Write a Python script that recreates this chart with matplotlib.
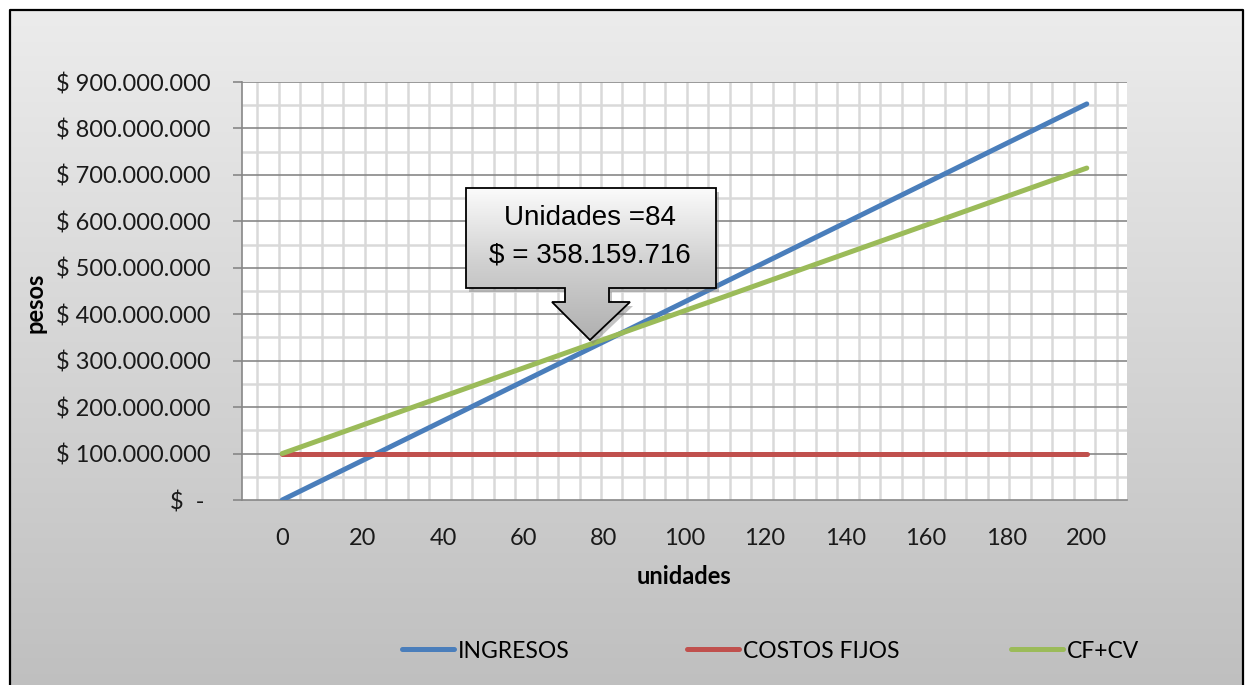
import numpy as np
import matplotlib
matplotlib.use('Agg')
import matplotlib.pyplot as plt
from matplotlib.patches import Polygon
from matplotlib.lines import Line2D
from matplotlib.colors import LinearSegmentedColormap
from matplotlib.ticker import FuncFormatter

# ---------------- data ----------------
unidades = [0, 200]
ingresos = [0, 852_800_000]
costos_fijos = [100_000_000, 100_000_000]
cf_cv = [100_000_000, 714_700_000]
series_names = ['INGRESOS', 'COSTOS FIJOS', 'CF+CV']
series_colors = ['#4a7ebb', '#c0504d', '#9bbb59']
x_ticks = list(range(0, 201, 20))
y_ticks = list(range(0, 900_000_001, 100_000_000))
callout_lines = ['Unidades =84', '$ = 358.159.716']

MAIN_FONT = ['Lato', 'DejaVu Sans']
NARROW_FONT = ['Liberation Sans', 'DejaVu Sans']

W, H = 1250, 685
fig = plt.figure(figsize=(W / 100, H / 100), dpi=100)
fig.patch.set_facecolor('white')

# ---------------- background (chart area gradient + border) ----------------
bg = fig.add_axes([0, 0, 1, 1], zorder=-5)
grad = np.linspace(0, 1, 256).reshape(-1, 1)
cmap_bg = LinearSegmentedColormap.from_list('bg', ['#ececec', '#bfbfbf'])
bg.imshow(grad, cmap=cmap_bg, extent=[10, 1243, 690, 10], aspect='auto', origin='upper')
bg.plot([10, 10, 1243, 1243], [690, 10, 10, 690], color='black', lw=1.6)
bg.set_xlim(0, W)
bg.set_ylim(H, 0)
bg.axis('off')

# ---------------- main axes ----------------
ax = fig.add_axes([242 / W, 1 - 500 / H, (1127 - 242) / W, (500 - 82) / H])
ax.set_facecolor('white')
ax.set_xlim(-10, 210)
ax.set_ylim(0, 900_000_000)

# minor grid (light)
minor_y = np.arange(50_000_000, 900_000_000, 100_000_000)
ax.hlines(minor_y, -10, 210, color='#d9d9d9', lw=1.8, zorder=0.5)
minor_x = np.linspace(-6.2, 207.4, 41)
ax.vlines(minor_x, 0, 900_000_000, color='#d9d9d9', lw=1.8, zorder=0.5)
# major horizontal grid
ax.hlines(y_ticks[1:], -10, 210, color='#878787', lw=1.2, zorder=1)

for s in ['top', 'right']:
    ax.spines[s].set_visible(False)
for s in ['left', 'bottom']:
    ax.spines[s].set_color('#878787')
    ax.spines[s].set_linewidth(1.2)

# series
for vals, name, col, z in zip([ingresos, costos_fijos, cf_cv], series_names, series_colors, [3, 4, 5]):
    ax.plot(unidades, vals, color=col, lw=3.6, solid_capstyle='round', label=name, zorder=z)

# ticks
ax.set_xticks(x_ticks)
ax.set_yticks(y_ticks)

def money(v, pos):
    if v == 0:
        return '$  - '
    return '$ ' + f'{int(v):,}'.replace(',', '.')

ax.yaxis.set_major_formatter(FuncFormatter(money))
ax.tick_params(axis='y', length=6.5, width=1.2, color='#878787', pad=16, labelsize=17)
ax.tick_params(axis='x', length=0, pad=20, labelsize=17)
for lab in ax.get_xticklabels() + ax.get_yticklabels():
    lab.set_family(MAIN_FONT)
    lab.set_color('#1a1a1a')

ax.set_xlabel('unidades', fontsize=17, fontweight='bold', family=MAIN_FONT)
ax.xaxis.set_label_coords(0.5, -0.184)
ax.xaxis.label.set_va('center')
ax.set_ylabel('pesos', fontsize=17, fontweight='bold', family=MAIN_FONT)
ax.yaxis.set_label_coords(-0.234, 0.471)
ax.yaxis.label.set_va('center')

# ---------------- legend (three entries spread across the bottom) ----------------
for name, col, xpix in zip(series_names, series_colors, [402, 687, 1011]):
    h = Line2D([], [], color=col, lw=3.6, solid_capstyle='round')
    fig.legend(handles=[h], labels=[name], loc='center left',
               bbox_to_anchor=(xpix / W, 1 - 651 / H), frameon=False,
               borderpad=0, borderaxespad=0, handlelength=2.25, handletextpad=0.2,
               prop={'family': MAIN_FONT, 'size': 16.5})

# ---------------- callout ----------------
ov = fig.add_axes([0, 0, 1, 1], zorder=10)
ov.patch.set_alpha(0)
verts = [(466, 188), (716, 188), (716, 288), (609, 288), (609, 302), (630, 302),
         (590, 340), (552, 302), (565, 302), (565, 288), (466, 288)]
shadow = Polygon([(x + 3, y + 4) for x, y in verts], closed=True, facecolor='#7a7a7a',
                 edgecolor='none', alpha=0.45, zorder=1)
ov.add_patch(shadow)
poly = Polygon(verts, closed=True, facecolor='none', edgecolor='black', lw=1.3, zorder=3)
ov.add_patch(poly)
cmap_box = LinearSegmentedColormap.from_list('box', ['#fbfbfb', '#d0d0d0', '#b0b0b0'])
im = ov.imshow(grad, cmap=cmap_box, extent=[466, 716, 340, 188], aspect='auto', origin='upper', zorder=2)
im.set_clip_path(poly)
ov.text(590, 218, callout_lines[0], ha='center', va='center', fontsize=20, family=NARROW_FONT, zorder=4)
ov.text(590, 255, callout_lines[1], ha='center', va='center', fontsize=20, family=NARROW_FONT, zorder=4)
ov.set_xlim(0, W)
ov.set_ylim(H, 0)
ov.axis('off')

fig.savefig('out.png', dpi=100)
